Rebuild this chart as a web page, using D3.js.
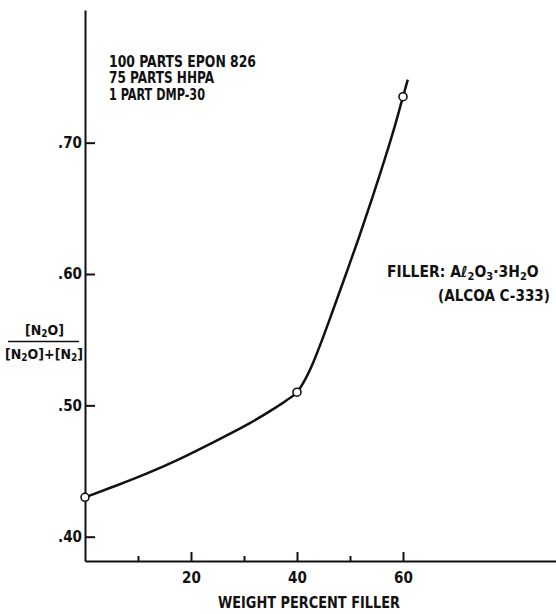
<!DOCTYPE html>
<html>
<head>
  <meta charset="utf-8">
  <title>N2O fraction vs filler</title>
  <script src="https://d3js.org/d3.v7.min.js"></script>
  <style>
    body { margin: 0; background: #fff; }
    svg text { font-family: "Liberation Sans Narrow", "DejaVu Sans Condensed", sans-serif; font-weight: bold; fill: #111; }
  </style>
</head>
<body>
<div id="chart"></div>
<script>
// measured points
const fillerPct = [0, 40, 60];
const n2oFrac = [0.430, 0.510, 0.735];

// hand drawn curve
const curveX = [0, 5.3, 11.6, 17.9, 24.2, 30.5, 35.5, 38.1, 40, 41.5, 43.1, 44.7, 46.8, 49.3, 51.7, 54.2, 56.6, 58.3, 60, 60.9];
const curveY = [0.430, 0.438, 0.448, 0.4593, 0.4719, 0.4851, 0.4971, 0.5041, 0.510, 0.5194, 0.533, 0.5495, 0.5726, 0.6006, 0.628, 0.658, 0.688, 0.7105, 0.735, 0.748];

const xTicks = [10, 20, 30, 40, 50, 60];
const xLabels = [20, 40, 60];
const yTicks = [0.40, 0.50, 0.60, 0.70];

const width = 556, height = 614;

const svg = d3.select("#chart").append("svg")
  .attr("width", width).attr("height", height);

const x = d3.scaleLinear().domain([0, 89]).range([85, 556.7]);
const y = d3.scaleLinear().domain([0.3815, 0.801]).range([561, 10]);

// x axis
const gx = svg.append("g")
  .attr("transform", `translate(0,${y(0.3815)})`)
  .call(d3.axisBottom(x).tickValues(xTicks).tickSizeOuter(0).tickSizeInner(0)
    .tickFormat(d => xLabels.includes(d) ? d : ""));
gx.select(".domain").attr("stroke", "#111").attr("stroke-width", 2);
gx.selectAll(".tick line").attr("stroke", "#111").attr("stroke-width", 2)
  .attr("y2", d => xLabels.includes(d) ? -9 : -5);
gx.selectAll(".tick text").attr("y", 11).style("font-size", "15px");

// y axis
const gy = svg.append("g")
  .attr("transform", `translate(${x(0)},0)`)
  .call(d3.axisLeft(y).tickValues(yTicks).tickSizeOuter(0).tickSizeInner(-10).tickPadding(3)
    .tickFormat(d => d.toFixed(2).slice(1)));
gy.select(".domain").attr("stroke", "#111").attr("stroke-width", 2);
gy.selectAll(".tick line").attr("stroke", "#111").attr("stroke-width", 2);
gy.selectAll(".tick text").style("font-size", "15px");

// curve
const line = d3.line()
  .x((d, i) => x(curveX[i]))
  .y(d => y(d))
  .curve(d3.curveMonotoneX);
svg.append("path")
  .attr("d", line(curveY))
  .attr("fill", "none").attr("stroke", "#111").attr("stroke-width", 2.5);

// points
svg.selectAll("circle.pt").data(fillerPct).join("circle")
  .attr("class", "pt")
  .attr("cx", d => x(d))
  .attr("cy", (d, i) => y(n2oFrac[i]))
  .attr("r", 4)
  .attr("fill", "#fff").attr("stroke", "#111").attr("stroke-width", 1.6);

// recipe note
const recipe = ["100 PARTS EPON 826", "75 PARTS HHPA", "1 PART DMP-30"];
const recipeW = [147, 105, 96];
svg.selectAll("text.recipe").data(recipe).join("text")
  .attr("class", "recipe")
  .attr("x", 109).attr("y", (d, i) => 67 + i * 16.3)
  .attr("textLength", (d, i) => recipeW[i]).attr("lengthAdjust", "spacingAndGlyphs")
  .style("font-size", "15.5px")
  .text(d => d);

// filler note
const f1 = svg.append("text").attr("x", 387).attr("y", 277).style("font-size", "15.5px");
f1.append("tspan").text("FILLER: Aℓ");
f1.append("tspan").attr("dy", 3).style("font-size", "11px").text("2");
f1.append("tspan").attr("dy", -3).text("O");
f1.append("tspan").attr("dy", 3).style("font-size", "11px").text("3");
f1.append("tspan").attr("dy", -3).text("·3H");
f1.append("tspan").attr("dy", 3).style("font-size", "11px").text("2");
f1.append("tspan").attr("dy", -3).text("O");

svg.append("text").attr("x", 438).attr("y", 301).style("font-size", "15.5px")
  .attr("textLength", 112).attr("lengthAdjust", "spacingAndGlyphs")
  .text("(ALCOA C-333)");

// x title
svg.append("text").attr("x", 218).attr("y", 608).style("font-size", "15px")
  .attr("textLength", 182).attr("lengthAdjust", "spacingAndGlyphs")
  .text("WEIGHT PERCENT FILLER");

// y title as a fraction
const num = svg.append("text").attr("x", 44.5).attr("y", 335)
  .attr("text-anchor", "middle").style("font-size", "14px");
num.append("tspan").text("[N");
num.append("tspan").attr("dy", 2).style("font-size", "10px").text("2");
num.append("tspan").attr("dy", -2).text("O]");

svg.append("line").attr("x1", 8).attr("x2", 79).attr("y1", 341.5).attr("y2", 341.5)
  .attr("stroke", "#111").attr("stroke-width", 1.5);

const den = svg.append("text").attr("x", 44).attr("y", 359)
  .attr("text-anchor", "middle").style("font-size", "14px");
den.append("tspan").text("[N");
den.append("tspan").attr("dy", 2).style("font-size", "10px").text("2");
den.append("tspan").attr("dy", -2).text("O]+[N");
den.append("tspan").attr("dy", 2).style("font-size", "10px").text("2");
den.append("tspan").attr("dy", -2).text("]");
</script>
</body>
</html>
